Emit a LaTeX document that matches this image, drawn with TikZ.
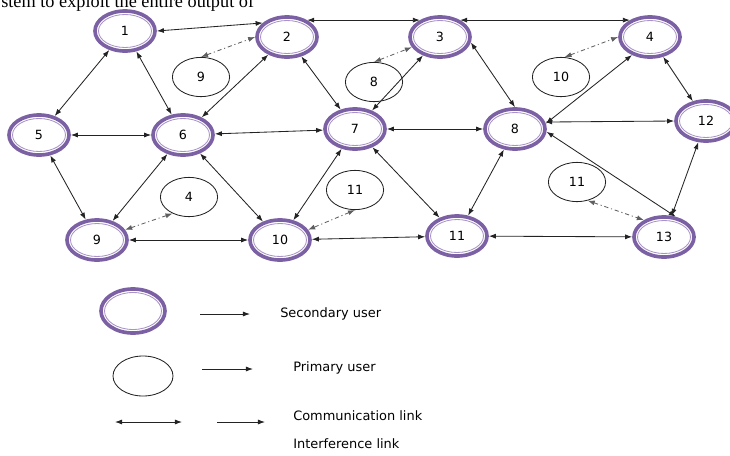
\documentclass[tikz,border=0pt]{standalone}
\usepackage{fontspec}
\setmainfont{Liberation Serif}
\setsansfont{DejaVu Sans}
\definecolor{SecondaryColor}{RGB}{124,96,164}
\definecolor{SecondaryInner}{RGB}{168,146,198}
\definecolor{LinkColor}{RGB}{35,35,35}
\definecolor{InterferenceColor}{RGB}{95,95,95}
\usetikzlibrary{positioning, arrows.meta, shapes.geometric, calc}
\tikzstyle{secondary} = [ellipse, draw=SecondaryColor, line width=2.6pt, minimum width=1.5cm, minimum height=1.0cm, inner sep=0pt, font=\sffamily\fontsize{9}{10}\selectfont,
  path picture={\draw[SecondaryInner, line width=0.6pt] let \p1=(path picture bounding box.north east), \p2=(path picture bounding box.center) in (\p2) ellipse [x radius=\x1-\x2-2.5pt, y radius=\y1-\y2-2.5pt];}]
\tikzstyle{primary} = [ellipse, draw=LinkColor, line width=0.6pt, minimum width=1.43cm, minimum height=0.98cm, inner sep=0pt, font=\sffamily\fontsize{9}{10}\selectfont]
\tikzstyle{link} = [LinkColor, line width=0.6pt, <->, >={Latex[length=5pt, width=3.6pt]}]
\tikzstyle{interference} = [InterferenceColor, line width=0.6pt, dash pattern=on 3pt off 2pt on 0.8pt off 2pt, <->, >={Latex[length=5pt, width=3.6pt]}]
\tikzstyle{legendtext} = [anchor=west, inner sep=0pt, font=\sffamily\fontsize{9.2}{11}\selectfont]

\begin{document}
\begin{tikzpicture}[x=0.025cm, y=-0.025cm]
    \useasboundingbox (0,0) rectangle (730,455);
    \clip (0,0) rectangle (730,455);

    % Running text cut off above
    \node[anchor=base west, inner sep=0pt, font=\fontsize{13}{15}\selectfont] (runtext) at (1,7.5) {stem to exploit the entire output of};

    % Secondary users
    \node[secondary] (n1) at (125,31) {1};
    \node[secondary] (n2) at (287,37) {2};
    \node[secondary] (n3) at (440,37) {3};
    \node[secondary] (n4) at (650,37) {4};
    \node[secondary] (n5) at (39,135) {5};
    \node[secondary] (n6) at (183,135) {6};
    \node[secondary] (n7) at (355,129) {7};
    \node[secondary] (n8) at (515,129) {8};
    \node[secondary] (n12) at (706,121) {12};
    \node[secondary] (n9) at (97,240) {9};
    \node[secondary] (n10) at (280,240) {10};
    \node[secondary] (n11) at (457,236) {11};
    \node[secondary] (n13) at (664,237) {13};

    % Primary users
    \node[primary] (pu9) at (201,77) {9};
    \node[primary] (pu8) at (374,82) {8};
    \node[primary] (pu10) at (561,77) {10};
    \node[primary] (pu4) at (189,197) {4};
    \node[primary] (pu11a) at (355,190) {11};
    \node[primary] (pu11b) at (577,182) {11};

    % Communication links
    \draw[link] (n1.east) -- (n2.150);
    \draw[link] (n2.40) -- (n3.140);
    \draw[link] (n3.40) -- (n4.140);
    \draw[link] (n1) -- (n5);
    \draw[link] (n1) -- (n6);
    \draw[link] (n2) -- (n6);
    \draw[link] (n2) -- (n7);
    \draw[link] (n3) -- (n7);
    \draw[link] (n3.-10) -- (n8.north);
    \draw[link] (n4.225) -- (n8.10);
    \draw[link] (n4) -- (n12);
    \draw[link] (n5) -- (n6);
    \draw[link] (n5) -- (n9);
    \draw[link] (n6) -- (n9);
    \draw[link] (n6) -- (n7);
    \draw[link] (n6) -- (n10);
    \draw[link] (n7) -- (n10);
    \draw[link] (n7) -- (n8);
    \draw[link] (n7) -- (n11);
    \draw[link] (n8) -- (n11);
    \draw[link] (n8.13) -- (n12.west);
    \draw[link] (n8.-5) -- (n13.60);
    \draw[link] (n12) -- (n13);
    \draw[link] (n9) -- (n10);
    \draw[link] (n10) -- (n11);
    \draw[link] (n11) -- (n13);

    % Interference links
    \draw[interference] (pu9.north) -- (n2.west);
    \draw[interference] (pu8.north) -- (n3.200);
    \draw[interference] (pu10.80) -- (n4.west);
    \draw[interference] (pu4.225) -- (n9.20);
    \draw[interference] (pu11a.south) -- (n10.20);
    \draw[interference] (pu11b.-60) -- (n13.140);

    % Legend
    \node[secondary, minimum width=1.6cm, minimum height=1.1cm] (legsu) at (133,311) {};
    \node[primary, minimum width=1.5cm, minimum height=1.0cm] (legpu) at (143,376) {};
    \coordinate (legsua) at (200,314);
    \coordinate (legsub) at (250,314);
    \coordinate (legpua) at (202,369);
    \coordinate (legpub) at (253,369);
    \coordinate (legcla) at (115,422);
    \coordinate (legclb) at (182,422);
    \coordinate (legcna) at (217,422);
    \coordinate (legcnb) at (265,422);
    \draw[link, ->] (legsua) -- (legsub);
    \draw[link, ->] (legpua) -- (legpub);
    \draw[link] (legcla) -- (legclb);
    \draw[link, ->] (legcna) -- (legcnb);
    \node[legendtext] (legsutext) at (280,314) {Secondary user};
    \node[legendtext] (legputext) at (293,368) {Primary user};
    \node[legendtext] (legcltext) at (293,416) {Communication link};
    \node[legendtext] (legiftext) at (293,444) {Interference link};
\end{tikzpicture}
\end{document}
